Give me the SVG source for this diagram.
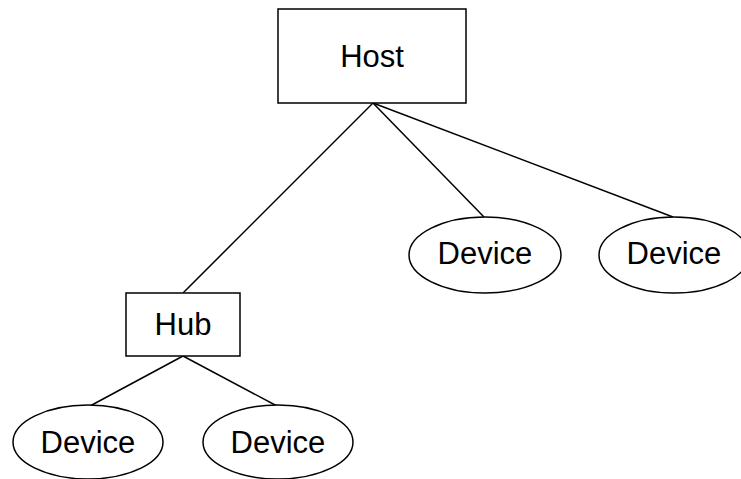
<svg xmlns="http://www.w3.org/2000/svg" width="741" height="479" viewBox="0 0 741 479">
<style>
.n{fill:#fff;stroke:#000;stroke-width:1.5}
.t{font-family:"Liberation Sans",Arial,sans-serif;font-size:31px;text-anchor:middle;fill:#000}
.c line{stroke:#000;stroke-width:1.5}
</style>
<rect width="741" height="479" fill="#fff"/>
<g class="c" id="connectors">
<line x1="373" y1="103" x2="183" y2="293"/>
<line x1="373" y1="103" x2="484" y2="217"/>
<line x1="373" y1="103" x2="673" y2="217"/>
<line x1="183" y1="356" x2="90" y2="406"/>
<line x1="183" y1="356" x2="277" y2="406"/>
</g>
<g id="host"><rect class="n" x="278" y="9" width="188" height="94"/><text class="t" x="372" y="67">Host</text></g>
<g id="hub"><rect class="n" x="126" y="293" width="114" height="63"/><text class="t" x="183" y="335">Hub</text></g>
<g id="device1"><ellipse class="n" cx="485" cy="255" rx="76" ry="38"/><text class="t" x="485" y="264">Device</text></g>
<g id="device2"><ellipse class="n" cx="674" cy="255" rx="75" ry="38"/><text class="t" x="674" y="264">Device</text></g>
<g id="device3"><ellipse class="n" cx="88" cy="442" rx="75" ry="37"/><text class="t" x="88" y="453">Device</text></g>
<g id="device4"><ellipse class="n" cx="278" cy="442" rx="75" ry="37"/><text class="t" x="278" y="453">Device</text></g>
</svg>
